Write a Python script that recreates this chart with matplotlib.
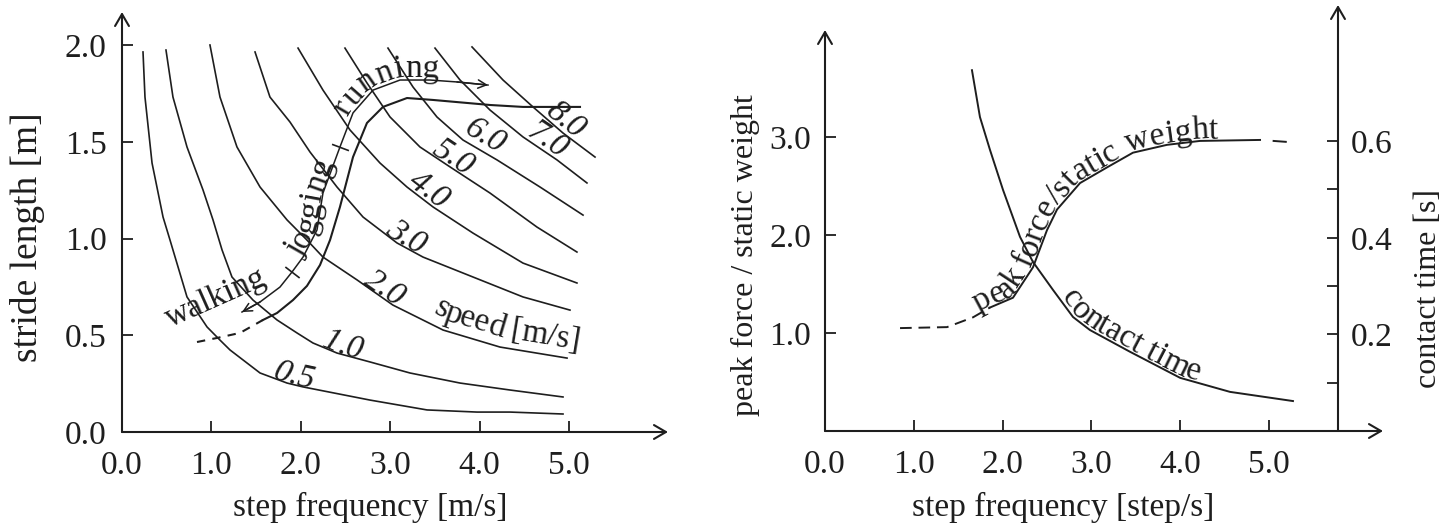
import numpy as np
import matplotlib
matplotlib.use("Agg")
import matplotlib.pyplot as plt
from matplotlib.font_manager import FontProperties, findfont, get_font

# ---------------- data : left panel ----------------
speed_labels = ["0.5", "1.0", "2.0", "3.0", "4.0", "5.0", "6.0", "7.0", "8.0"]

v05_f = [0.235, 0.257, 0.336, 0.459, 0.537, 0.727, 0.951, 1.096, 1.208, 1.544, 1.846, 2.025, 2.774, 3.412, 3.971, 4.340, 4.933]
v05_L = [1.964, 1.731, 1.390, 1.111, 0.992, 0.698, 0.543, 0.475, 0.424, 0.305, 0.253, 0.233, 0.165, 0.114, 0.103, 0.103, 0.093]
v10_f = [0.492, 0.570, 0.727, 0.906, 1.018, 1.119, 1.230, 1.465, 1.734, 1.957, 2.136, 2.405, 2.774, 3.221, 3.781, 4.340, 4.933]
v10_L = [1.974, 1.731, 1.473, 1.251, 1.096, 0.941, 0.801, 0.682, 0.579, 0.512, 0.460, 0.408, 0.362, 0.305, 0.253, 0.217, 0.181]
v20_f = [0.984, 1.096, 1.286, 1.544, 1.846, 2.069, 2.248, 2.629, 3.030, 3.591, 4.228, 4.978]
v20_L = [2.000, 1.731, 1.473, 1.266, 1.096, 0.992, 0.904, 0.786, 0.656, 0.527, 0.439, 0.382]
v30_f = [1.488, 1.655, 1.879, 2.103, 2.405, 2.696, 3.076, 3.367, 3.926, 4.485, 5.011]
v30_L = [1.964, 1.731, 1.602, 1.447, 1.266, 1.111, 0.977, 0.904, 0.801, 0.698, 0.630]
v40_f = [1.969, 2.248, 2.550, 2.886, 3.188, 3.479, 3.926, 4.485, 5.089]
v40_L = [1.984, 1.767, 1.561, 1.390, 1.266, 1.163, 1.028, 0.873, 0.770]
v50_f = [2.494, 2.740, 2.998, 3.333, 3.669, 4.116, 4.642, 5.089]
v50_L = [1.984, 1.804, 1.628, 1.473, 1.370, 1.235, 1.059, 0.930]
v60_f = [2.975, 3.255, 3.523, 3.814, 4.195, 4.676, 5.157]
v60_L = [1.984, 1.783, 1.628, 1.509, 1.406, 1.266, 1.121]
v70_f = [3.501, 3.781, 4.116, 4.485, 4.866, 5.201]
v70_L = [1.984, 1.819, 1.664, 1.525, 1.406, 1.287]
v80_f = [3.915, 4.262, 4.597, 4.933, 5.291]
v80_L = [1.990, 1.819, 1.680, 1.545, 1.421]
speed_label_f = [1.90, 2.44, 2.88, 3.12, 3.36, 3.64, 3.97, 4.68, 4.88]
speed_label_off = [0, 0, 0, 0, 2, 1, 6, 3, 3]

# gait transition line (dashed part = first points)
gait_f = [0.839, 1.063, 1.320, 1.577, 1.734, 1.913, 2.069, 2.215, 2.327, 2.438, 2.584, 2.740, 2.919, 3.188, 3.479, 4.116, 4.485, 5.123]
gait_L = [0.465, 0.486, 0.512, 0.579, 0.615, 0.682, 0.755, 0.863, 0.992, 1.163, 1.421, 1.597, 1.680, 1.726, 1.716, 1.690, 1.680, 1.680]
gait_dash_end = 3

# gait-mode arrow (walking / jogging / running)
arc_f = [1.342, 1.544, 1.767, 1.902, 2.025, 2.181, 2.248, 2.438, 2.584, 2.808, 3.110, 3.445, 3.747, 4.094]
arc_L = [0.620, 0.672, 0.749, 0.827, 0.904, 1.044, 1.235, 1.473, 1.649, 1.767, 1.819, 1.819, 1.809, 1.793]
arc_marks = [3, 7]
gait_names = ["walking", "jogging", "running"]

left_xticks = [0, 1, 2, 3, 4, 5]
left_xlabels = ["0.0", "1.0", "2.0", "3.0", "4.0", "5.0"]
left_yticks = [0.0, 0.5, 1.0, 1.5, 2.0]
left_ylabels = ["0.0", "0.5", "1.0", "1.5", "2.0"]

# ---------------- data : right panel ----------------
pf_f = [0.845, 1.374, 1.667, 1.858, 2.117, 2.342, 2.500, 2.613, 2.872, 3.176, 3.468, 3.851, 4.223, 4.899, 5.200]
pf_r = [1.05, 1.06, 1.16, 1.26, 1.36, 1.67, 2.05, 2.26, 2.53, 2.69, 2.84, 2.92, 2.96, 2.97, 2.95]
pf_solid = (3, 13)
ct_f = [1.655, 1.745, 1.858, 2.005, 2.196, 2.342, 2.568, 2.793, 2.984, 3.435, 4.000, 4.561, 5.270]
ct_s = [0.747, 0.650, 0.582, 0.499, 0.402, 0.350, 0.292, 0.236, 0.209, 0.164, 0.110, 0.081, 0.062]

right_xticks = [0, 1, 2, 3, 4, 5]
right_xlabels = ["0.0", "1.0", "2.0", "3.0", "4.0", "5.0"]
pf_ticks = [1, 2, 3]
pf_labels = ["1.0", "2.0", "3.0"]
ct_ticks = [0.2, 0.4, 0.6]
ct_labels = ["0.2", "0.4", "0.6"]
ct_minor = [0.1, 0.3, 0.5]

# ---------------- style ----------------
W, H, DPI = 1454, 529, 100
INK = "#1e1e1e"
FAM = "Liberation Serif"
FS = 24
plt.rcParams["font.family"] = [FAM, "DejaVu Serif"]

fig = plt.figure(figsize=(W / DPI, H / DPI), dpi=DPI)


def px_axes(x0, yb, x1, yt):
    return fig.add_axes([x0 / W, (H - yb) / H, (x1 - x0) / W, (yb - yt) / H])


def arrow(ax, p0, p1, lw=1.5, hl=0.86, hw=0.5):
    ann = ax.annotate("", xy=p1, xytext=p0,
                      arrowprops=dict(arrowstyle=f"->,head_length={hl},head_width={hw}",
                                      lw=lw, color=INK, shrinkA=0, shrinkB=0,
                                      mutation_scale=10),
                      annotation_clip=False)
    ann.arrow_patch.set_clip_on(False)


def advances(text, size, style):
    fp = FontProperties(family=FAM, style=style, size=size)
    font = get_font(findfont(fp))
    font.set_size(size, DPI)
    return [font.load_char(ord(c)).linearHoriAdvance / 65536 for c in text]


def text_along(ax, xs, ys, text, at_x, offset=0.0, size=FS, style="normal", align="center"):
    P = ax.transData.transform(np.column_stack([xs, ys]))
    d = np.diff(P, axis=0)
    seg = np.hypot(d[:, 0], d[:, 1])
    cum = np.concatenate([[0.0], np.cumsum(seg)])

    def point(s):
        if s <= 0:
            i = 0
        elif s >= cum[-1]:
            i = len(seg) - 1
        else:
            i = int(np.searchsorted(cum, s)) - 1
            i = max(0, min(i, len(seg) - 1))
        t = (s - cum[i]) / seg[i]
        return P[i] + t * d[i]

    px = ax.transData.transform((at_x, ys[0]))[0]
    s_at = np.interp(px, P[:, 0], cum)
    adv = advances(text, size, style)
    s = s_at - sum(adv) / 2 if align == "center" else s_at
    inv = ax.transData.inverted()
    for ch, a in zip(text, adv):
        sc = s + a / 2
        h = max(a / 2, 7)
        pa, pb = point(sc - h), point(sc + h)
        ang = np.arctan2(pb[1] - pa[1], pb[0] - pa[0])
        n = np.array([-np.sin(ang), np.cos(ang)])
        q = point(sc) + offset * n
        xd, yd = inv.transform(q)
        ax.text(xd, yd, ch, rotation=np.degrees(ang), rotation_mode="anchor",
                ha="center", va="baseline", fontsize=size, fontstyle=style,
                color=INK, clip_on=False)
        s += a


def style_axes(ax):
    for sp in ax.spines.values():
        sp.set_visible(False)
    ax.set_facecolor("none")


# ================= LEFT PANEL =================
axL = px_axes(122, 432, 668, 12)
axL.set_xlim(0, (668 - 122) / 89.4)
axL.set_ylim(0, (432 - 12) / 193.5)
style_axes(axL)
axL.set_xticks(left_xticks, left_xlabels)
axL.set_yticks(left_yticks, left_ylabels)
axL.tick_params(direction="in", length=8, width=1.3, colors=INK, labelsize=FS)
axL.tick_params(axis="x", pad=13)
axL.tick_params(axis="y", pad=11)

arrow(axL, (0, 0), (axL.get_xlim()[1], 0))
arrow(axL, (0, 0), (0, axL.get_ylim()[1]))

curves = [(v05_f, v05_L), (v10_f, v10_L), (v20_f, v20_L), (v30_f, v30_L), (v40_f, v40_L),
          (v50_f, v50_L), (v60_f, v60_L), (v70_f, v70_L), (v80_f, v80_L)]
for (cf, cl), lab, lx, lo in zip(curves, speed_labels, speed_label_f, speed_label_off):
    axL.plot(cf, cl, color=INK, lw=1.2, solid_joinstyle="round")
    text_along(axL, cf, cl, lab, lx, offset=lo, size=FS, style="italic")

text_along(axL, v20_f, v20_L, "speed [m/s]", 3.42, offset=10, size=FS, align="start")

# gait transition line
axL.plot(gait_f[:gait_dash_end + 1], gait_L[:gait_dash_end + 1], color=INK, lw=1.5,
         linestyle=(0, (4, 3.5)))
axL.plot(gait_f[gait_dash_end:], gait_L[gait_dash_end:], color=INK, lw=1.5,
         solid_joinstyle="round")

# gait mode arrow
axL.plot(arc_f, arc_L, color=INK, lw=1.1)
arrow(axL, (arc_f[1], arc_L[1]), (arc_f[0], arc_L[0]), lw=1.1, hl=0.6, hw=0.3)
arrow(axL, (arc_f[-2], arc_L[-2]), (arc_f[-1], arc_L[-1]), lw=1.1, hl=0.6, hw=0.3)
Pa = axL.transData.transform(np.column_stack([arc_f, arc_L]))
for k in arc_marks:
    tang = np.degrees(np.arctan2(Pa[k + 1, 1] - Pa[k - 1, 1], Pa[k + 1, 0] - Pa[k - 1, 0]))
    axL.plot(arc_f[k], arc_L[k], marker=(2, 0, tang), markersize=13, mew=1.2,
             color=INK, linestyle="none")

axL.text(1.085, 0.655, gait_names[0], rotation=24, rotation_mode="anchor",
         ha="center", va="baseline", fontsize=FS, color=INK)
text_along(axL, arc_f, arc_L, gait_names[1], 2.215, offset=1, size=FS)
text_along(axL, arc_f, arc_L, gait_names[2], 2.56, offset=3, size=FS, align="start")

fig.text(370 / W, 1 - 507 / H, "step frequency [m/s]", ha="center", va="center",
         fontsize=FS, color=INK)
fig.text(28 / W, 1 - 237 / H, "stride length [m]", ha="center", va="center",
         rotation=90, fontsize=27, color=INK)

# ================= RIGHT PANEL =================
axR = px_axes(825, 431, 1338, 30)
axR.set_xlim(0, (1338 - 825) / 88.8)
axR.set_ylim(0, (431 - 30) / 98.0)
style_axes(axR)
axT = axR.twinx()
axT.set_ylim(0, (431 - 30) / 483.0)
style_axes(axT)

axR.set_xticks(right_xticks, right_xlabels)
axR.set_yticks(pf_ticks, pf_labels)
axR.tick_params(direction="in", length=8, width=1.3, colors=INK, labelsize=FS)
axR.tick_params(axis="x", pad=13)
axR.tick_params(axis="y", pad=10)
axT.set_yticks(ct_ticks, ct_labels)
axT.set_yticks(ct_minor, minor=True)
axT.tick_params(axis="y", which="both", direction="in", length=8, width=1.3,
                colors=INK, labelsize=FS, pad=9)

xr = axR.get_xlim()[1]
arrow(axR, (0, 0), ((1383 - 825) / 88.8, 0))
arrow(axR, (0, 0), (0, axR.get_ylim()[1]))
arrow(axT, (xr, 0), (xr, (431 - 5) / 483.0))

a, b = pf_solid
axR.plot(pf_f[:a + 1], pf_r[:a + 1], color=INK, lw=1.4, linestyle=(0, (6, 3.5)))
axR.plot(pf_f[a:b + 1], pf_r[a:b + 1], color=INK, lw=1.4)
axR.plot(pf_f[b:], pf_r[b:], color=INK, lw=1.4, linestyle=(7.5, (7.5, 6.5)))
axT.plot(ct_f, ct_s, color=INK, lw=1.4)

text_along(axR, pf_f, pf_r, "peak force/static weight", 1.74, offset=2, size=24, align="start")
text_along(axT, ct_f, ct_s, "contact time", 2.64, offset=2, size=24, align="start")

fig.text(1063 / W, 1 - 507 / H, "step frequency [step/s]", ha="center", va="center",
         fontsize=FS, color=INK)
fig.text(745 / W, 1 - 255 / H, "peak force / static weight", ha="center", va="center",
         rotation=90, fontsize=23, color=INK)
fig.text(1428 / W, 1 - 288 / H, "contact time [s]", ha="center", va="center",
         rotation=90, fontsize=23, color=INK)

fig.savefig("out.png", dpi=DPI)
